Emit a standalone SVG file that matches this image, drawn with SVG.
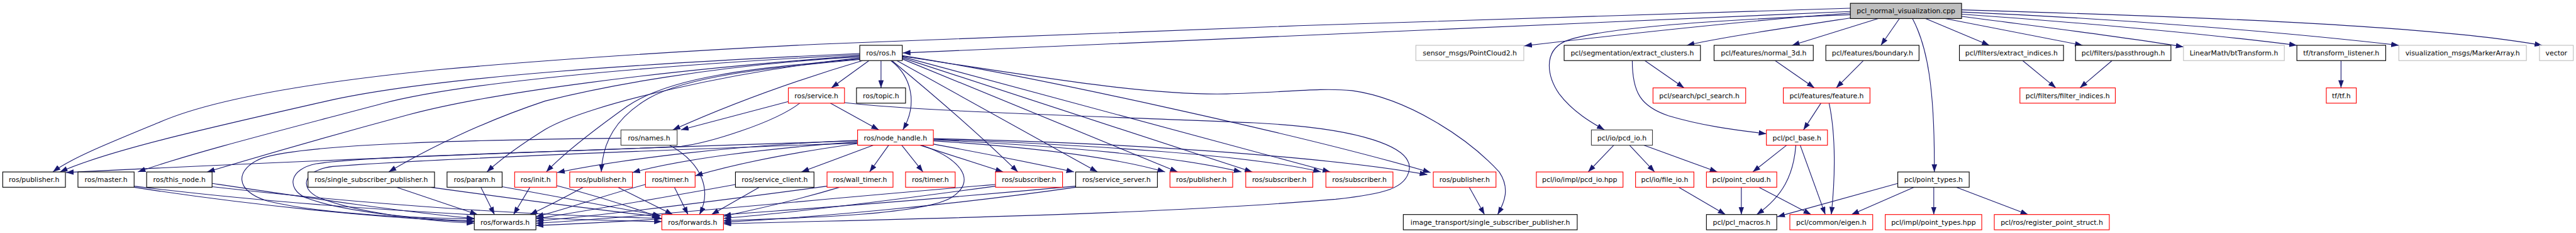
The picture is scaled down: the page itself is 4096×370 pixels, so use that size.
<svg xmlns="http://www.w3.org/2000/svg" width="4096" height="370" viewBox="0 0 4096 370">
<style>
.nd rect{fill:#fff;stroke:#000;stroke-width:1.3}
.nd.r rect{stroke:#f00}
.nd.g rect{stroke:#bfbfbf}
.nd.root rect{fill:#bfbfbf;stroke:#000}
.nd.dk rect{stroke:#404040}
.nd text{font-family:"DejaVu Sans","Liberation Sans",sans-serif;font-size:12.6px;fill:#000;text-anchor:middle}
.e path{fill:none;stroke:#191970;stroke-width:1.3;marker-end:url(#a)}
</style>
<defs>
<marker id="a" markerUnits="userSpaceOnUse" markerWidth="14" markerHeight="10" refX="14" refY="5" orient="auto" viewBox="0 0 14 10"><path d="M0,0 L14,5 L0,10 z" fill="#191970"/></marker>
</defs>
<rect width="4096" height="370" fill="#fff"/>
<g transform="scale(0.866878)">
<g id="edges" class="e">
<path d="M3394,21 C2900,45 2300,72 1656,97"/>
<path d="M3394,15 C3000,26 2000,58 1500,81 C1200,96 1000,110 800,128 C560,152 380,185 290,225 C200,262 130,290 97,315"/>
<path d="M3394,24 C3200,38 3000,60 2796,84"/>
<path d="M3394,27 C3100,38 2920,55 2870,76 C2830,95 2838,140 2860,172 C2885,205 2920,225 2943,238"/>
<path d="M3400,32 C3250,55 3150,70 3094,83"/>
<path d="M3445,34 L3287,83"/>
<path d="M3484,34 L3450,83"/>
<path d="M3508,34 C3535,85 3549,160 3548,315"/>
<path d="M3532,34 L3649,83"/>
<path d="M3568,34 L3820,83"/>
<path d="M3598,30 C3750,50 3900,68 4005,86"/>
<path d="M3598,26 C3800,40 4050,62 4213,83"/>
<path d="M3598,22 C3900,35 4200,60 4400,83"/>
<path d="M3598,18 C4000,30 4450,45 4663,83"/>
<path d="M3017,111 L3089,161"/>
<path d="M2994,111 C2994,170 3010,195 3060,212 C3120,230 3180,238 3240,245"/>
<path d="M3256,111 L3328,161"/>
<path d="M3418,111 L3368,161"/>
<path d="M3710,111 L3771,161"/>
<path d="M3874,111 L3815,161"/>
<path d="M3340,189 L3308,238"/>
<path d="M3355,189 C3368,250 3366,330 3359,393"/>
<path d="M3277,266 L3215,315"/>
<path d="M3294,266 C3290,320 3270,360 3222,393"/>
<path d="M3302,266 L3348,393"/>
<path d="M3194,343 L3194,393"/>
<path d="M3226,343 L3322,393"/>
<path d="M3481,336 L3260,397"/>
<path d="M3511,343 L3396,393"/>
<path d="M3547,343 L3547,393"/>
<path d="M3588,343 L3720,393"/>
<path d="M2960,266 L2913,315"/>
<path d="M2989,266 L3035,315"/>
<path d="M3015,266 L3150,315"/>
<path d="M3079,343 L3165,393"/>
<path d="M4294,111 L4294,161"/>
<path d="M2695,343 L2723,393"/>
<path d="M1655,103 C1900,140 2100,175 2250,172 C2350,170 2420,160 2480,166 C2580,180 2690,250 2750,315 C2770,345 2760,370 2747,393"/>
<path d="M1594,111 L1525,161"/>
<path d="M1616,111 L1616,161"/>
<path d="M1634,111 C1672,140 1684,190 1656,238"/>
<path d="M1636,111 C1720,180 1800,250 1867,315"/>
<path d="M1645,111 L2013,315"/>
<path d="M1655,108 L2160,315"/>
<path d="M1655,106 L2297,315"/>
<path d="M1655,104 L2440,315"/>
<path d="M1655,102 C1900,140 2400,250 2624,316"/>
<path d="M1577,98 C1200,115 800,140 600,185 C380,235 200,275 110,315"/>
<path d="M1577,100 C1200,120 850,150 700,190 C550,230 350,280 253,315"/>
<path d="M1577,102 C1200,130 900,170 750,210 C620,245 480,285 380,315"/>
<path d="M1577,104 C1300,120 1100,160 1000,185 C880,225 780,275 713,315"/>
<path d="M1577,106 C1350,130 1080,190 1000,237 C960,262 920,290 893,315"/>
<path d="M1577,108 C1380,125 1230,140 1150,195 C1080,245 1030,285 1002,315"/>
<path d="M1577,109 C1400,125 1260,140 1190,180 C1130,215 1105,260 1103,315"/>
<path d="M1582,111 C1450,150 1330,195 1234,238"/>
<path d="M1446,186 L1249,238"/>
<path d="M1523,189 L1612,238"/>
<path d="M1467,189 C1420,225 1300,262 1250,268 C1000,280 680,285 580,300 C530,310 525,345 560,362 C640,392 800,403 870,405"/>
<path d="M1549,188 C1700,205 2000,212 2300,225 C2500,235 2590,270 2585,310 C2580,345 2540,355 2450,365 C2100,395 1600,402 1327,410"/>
<path d="M1139,253 C900,256 560,262 480,290 C430,310 430,350 490,368 C600,395 790,400 870,401"/>
<path d="M1228,266 C1290,300 1305,350 1283,393"/>
<path d="M1573,262 C1300,272 800,290 610,305 C555,312 548,345 585,362 C660,392 800,406 870,409"/>
<path d="M1573,258 C1200,270 600,292 121,316"/>
<path d="M1602,266 L1470,315"/>
<path d="M1573,263 C1450,280 1350,300 1275,322"/>
<path d="M1573,260 C1400,272 1250,292 1160,316"/>
<path d="M1573,257 C1350,266 1150,290 1022,316"/>
<path d="M1630,266 L1595,315"/>
<path d="M1654,266 L1693,315"/>
<path d="M1688,266 L1840,315"/>
<path d="M1712,264 C1800,280 1900,300 1970,315"/>
<path d="M1712,258 C1900,270 2050,290 2137,315"/>
<path d="M1712,256 C1950,268 2150,285 2277,315"/>
<path d="M1712,255 C2000,265 2300,285 2423,315"/>
<path d="M1712,254 C2100,262 2450,290 2618,320"/>
<path d="M1690,266 C1760,290 1795,330 1745,362 C1690,395 1450,400 1327,404"/>
<path d="M246,343 C450,375 700,400 870,406"/>
<path d="M246,341 C600,385 1000,402 1214,406"/>
<path d="M389,336 C550,360 750,390 870,400"/>
<path d="M389,342 C700,378 1000,395 1214,400"/>
<path d="M727,343 L876,393"/>
<path d="M790,343 C950,365 1100,385 1210,397"/>
<path d="M882,343 L907,393"/>
<path d="M921,342 C1050,365 1150,385 1212,395"/>
<path d="M972,343 L942,393"/>
<path d="M1021,340 C1100,360 1160,380 1210,398"/>
<path d="M1070,343 C1030,365 1000,380 972,393"/>
<path d="M1133,343 L1234,393"/>
<path d="M1184,338 C1100,360 1050,380 983,397"/>
<path d="M1237,343 L1262,393"/>
<path d="M1349,338 C1200,365 1050,390 983,401"/>
<path d="M1393,343 L1305,393"/>
<path d="M1517,341 C1300,370 1100,395 983,405"/>
<path d="M1540,343 C1450,370 1380,385 1327,396"/>
<path d="M1826,338 C1500,365 1150,400 983,409"/>
<path d="M1826,341 C1650,365 1450,390 1327,400"/>
<path d="M1973,341 C1600,375 1200,405 983,413"/>
<path d="M1973,343 C1750,375 1500,398 1327,407"/>
</g>
<g id="n_root" class="nd root"><rect x="3394" y="6" width="204" height="28"/><text x="3496" y="24.7">pcl_normal_visualization.cpp</text></g>
<g id="n_ros" class="nd"><rect x="1577" y="83" width="78" height="28"/><text x="1616" y="101.7">ros/ros.h</text></g>
<g id="n_pc2" class="nd g"><rect x="2597" y="83" width="198" height="28"/><text x="2696" y="101.7">sensor_msgs/PointCloud2.h</text></g>
<g id="n_ec" class="nd"><rect x="2869" y="83" width="250" height="28"/><text x="2994" y="101.7">pcl/segmentation/extract_clusters.h</text></g>
<g id="n_n3d" class="nd"><rect x="3144" y="83" width="182" height="28"/><text x="3235" y="101.7">pcl/features/normal_3d.h</text></g>
<g id="n_bnd" class="nd"><rect x="3349" y="83" width="171" height="28"/><text x="3434.5" y="101.7">pcl/features/boundary.h</text></g>
<g id="n_ei" class="nd"><rect x="3594" y="83" width="191" height="28"/><text x="3689.5" y="101.7">pcl/filters/extract_indices.h</text></g>
<g id="n_pt" class="nd"><rect x="3807" y="83" width="175" height="28"/><text x="3894.5" y="101.7">pcl/filters/passthrough.h</text></g>
<g id="n_lm" class="nd g"><rect x="4005" y="83" width="185" height="28"/><text x="4097.5" y="101.7">LinearMath/btTransform.h</text></g>
<g id="n_tl" class="nd"><rect x="4213" y="83" width="163" height="28"/><text x="4294.5" y="101.7">tf/transform_listener.h</text></g>
<g id="n_vm" class="nd g"><rect x="4400" y="83" width="234" height="28"/><text x="4517" y="101.7">visualization_msgs/MarkerArray.h</text></g>
<g id="n_vec" class="nd g"><rect x="4658" y="83" width="62" height="28"/><text x="4689" y="101.7">vector</text></g>
<g id="n_srv" class="nd r"><rect x="1446" y="161" width="103" height="28"/><text x="1497.5" y="179.7">ros/service.h</text></g>
<g id="n_topic" class="nd"><rect x="1571" y="161" width="90" height="28"/><text x="1616" y="179.7">ros/topic.h</text></g>
<g id="n_search" class="nd r"><rect x="3032" y="161" width="170" height="28"/><text x="3117" y="179.7">pcl/search/pcl_search.h</text></g>
<g id="n_feat" class="nd r"><rect x="3271" y="161" width="159" height="28"/><text x="3350.5" y="179.7">pcl/features/feature.h</text></g>
<g id="n_fi" class="nd r"><rect x="3705" y="161" width="175" height="28"/><text x="3792.5" y="179.7">pcl/filters/filter_indices.h</text></g>
<g id="n_tf" class="nd r"><rect x="4267" y="161" width="55" height="28"/><text x="4294.5" y="179.7">tf/tf.h</text></g>
<g id="n_names" class="nd dk"><rect x="1139" y="238" width="103" height="28"/><text x="1190.5" y="256.7">ros/names.h</text></g>
<g id="n_nh" class="nd r"><rect x="1573" y="238" width="139" height="28"/><text x="1642.5" y="256.7">ros/node_handle.h</text></g>
<g id="n_pcdio" class="nd dk"><rect x="2919" y="238" width="112" height="28"/><text x="2975" y="256.7">pcl/io/pcd_io.h</text></g>
<g id="n_base" class="nd r"><rect x="3240" y="238" width="112" height="28"/><text x="3296" y="256.7">pcl/pcl_base.h</text></g>
<g id="n_pub1" class="nd"><rect x="5" y="315" width="115" height="28"/><text x="62.5" y="333.7">ros/publisher.h</text></g>
<g id="n_master" class="nd"><rect x="143" y="315" width="103" height="28"/><text x="194.5" y="333.7">ros/master.h</text></g>
<g id="n_thisnode" class="nd"><rect x="269" y="315" width="120" height="28"/><text x="329" y="333.7">ros/this_node.h</text></g>
<g id="n_ssp" class="nd"><rect x="565" y="315" width="232" height="28"/><text x="681" y="333.7">ros/single_subscriber_publisher.h</text></g>
<g id="n_param" class="nd"><rect x="820" y="315" width="101" height="28"/><text x="870.5" y="333.7">ros/param.h</text></g>
<g id="n_init" class="nd r"><rect x="944" y="315" width="77" height="28"/><text x="982.5" y="333.7">ros/init.h</text></g>
<g id="n_pub2" class="nd r"><rect x="1045" y="315" width="115" height="28"/><text x="1102.5" y="333.7">ros/publisher.h</text></g>
<g id="n_timer1" class="nd r"><rect x="1184" y="315" width="91" height="28"/><text x="1229.5" y="333.7">ros/timer.h</text></g>
<g id="n_sc" class="nd"><rect x="1349" y="315" width="144" height="28"/><text x="1421" y="333.7">ros/service_client.h</text></g>
<g id="n_wt" class="nd r"><rect x="1517" y="315" width="121" height="28"/><text x="1577.5" y="333.7">ros/wall_timer.h</text></g>
<g id="n_timer2" class="nd r"><rect x="1661" y="315" width="91" height="28"/><text x="1706.5" y="333.7">ros/timer.h</text></g>
<g id="n_sub1" class="nd r"><rect x="1826" y="315" width="123" height="28"/><text x="1887.5" y="333.7">ros/subscriber.h</text></g>
<g id="n_ss" class="nd"><rect x="1973" y="315" width="150" height="28"/><text x="2048" y="333.7">ros/service_server.h</text></g>
<g id="n_pub3" class="nd r"><rect x="2146" y="315" width="115" height="28"/><text x="2203.5" y="333.7">ros/publisher.h</text></g>
<g id="n_sub2" class="nd r"><rect x="2285" y="315" width="123" height="28"/><text x="2346.5" y="333.7">ros/subscriber.h</text></g>
<g id="n_sub3" class="nd r"><rect x="2432" y="315" width="123" height="28"/><text x="2493.5" y="333.7">ros/subscriber.h</text></g>
<g id="n_pub4" class="nd r"><rect x="2629" y="315" width="115" height="28"/><text x="2686.5" y="333.7">ros/publisher.h</text></g>
<g id="n_pcdhpp" class="nd r"><rect x="2818" y="315" width="159" height="28"/><text x="2897.5" y="333.7">pcl/io/impl/pcd_io.hpp</text></g>
<g id="n_fileio" class="nd r"><rect x="3000" y="315" width="107" height="28"/><text x="3053.5" y="333.7">pcl/io/file_io.h</text></g>
<g id="n_pcloud" class="nd r"><rect x="3130" y="315" width="129" height="28"/><text x="3194.5" y="333.7">pcl/point_cloud.h</text></g>
<g id="n_ptypes" class="nd"><rect x="3481" y="315" width="131" height="28"/><text x="3546.5" y="333.7">pcl/point_types.h</text></g>
<g id="n_fwd1" class="nd"><rect x="870" y="393" width="113" height="28"/><text x="926.5" y="411.7">ros/forwards.h</text></g>
<g id="n_fwd2" class="nd r"><rect x="1214" y="393" width="113" height="28"/><text x="1270.5" y="411.7">ros/forwards.h</text></g>
<g id="n_itssp" class="nd"><rect x="2574" y="393" width="319" height="28"/><text x="2733.5" y="411.7">image_transport/single_subscriber_publisher.h</text></g>
<g id="n_macros" class="nd"><rect x="3130" y="393" width="129" height="28"/><text x="3194.5" y="411.7">pcl/pcl_macros.h</text></g>
<g id="n_eigen" class="nd r"><rect x="3283" y="393" width="152" height="28"/><text x="3359" y="411.7">pcl/common/eigen.h</text></g>
<g id="n_ptimpl" class="nd r"><rect x="3458" y="393" width="177" height="28"/><text x="3546.5" y="411.7">pcl/impl/point_types.hpp</text></g>
<g id="n_reg" class="nd r"><rect x="3658" y="393" width="211" height="28"/><text x="3763.5" y="411.7">pcl/ros/register_point_struct.h</text></g>
</g>
</svg>
